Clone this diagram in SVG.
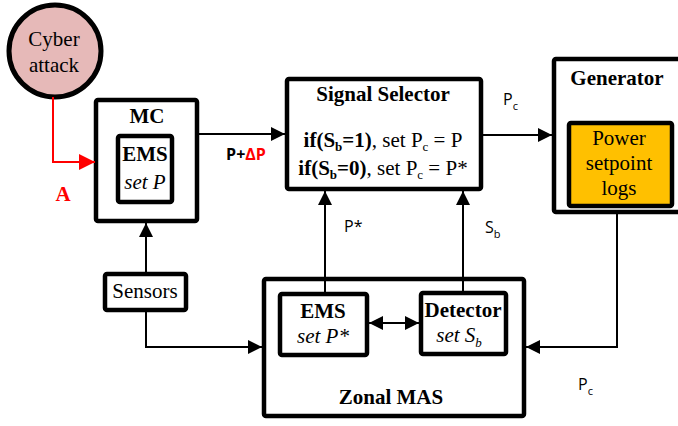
<svg xmlns="http://www.w3.org/2000/svg" width="678" height="426" viewBox="0 0 678 426">
<defs>
<style>
.box{fill:#fff;stroke:#000;stroke-width:4.5}
.ser{font-family:"Liberation Serif","Times New Roman",serif;font-size:21px;fill:#000}
.b{font-weight:bold}
.i{font-style:italic}
.sans{font-family:"Open Sans","Liberation Sans",sans-serif;font-size:16px;fill:#000}
.ln{fill:none;stroke:#000;stroke-width:2}
</style>
<marker id="ah" viewBox="0 0 14 14" refX="14" refY="7" markerWidth="14" markerHeight="14" markerUnits="userSpaceOnUse" orient="auto-start-reverse"><path d="M0,0 L14,7 L0,14 z" fill="#000"/></marker>
<marker id="ahr" viewBox="0 0 16 16" refX="16" refY="8" markerWidth="16" markerHeight="16" markerUnits="userSpaceOnUse" orient="auto"><path d="M0,0 L16,8 L0,16 z" fill="#f00"/></marker>
</defs>
<rect width="678" height="426" fill="#fff"/>

<g id="cyber-attack">
<circle cx="55" cy="51" r="46" fill="#E6B9B8" stroke="#000" stroke-width="5"/>
<text class="ser" x="54" y="46" text-anchor="middle">Cyber</text>
<text class="ser" x="54" y="72" text-anchor="middle">attack</text>
</g>

<g id="label-A">
<text class="ser b" x="63" y="201" text-anchor="middle" style="fill:#f00">A</text>
</g>

<g id="mc">
<rect class="box" x="96" y="100" width="101" height="121" rx="2"/>
<text class="ser b" x="147" y="123" text-anchor="middle">MC</text>
<g id="mc-ems">
<rect class="box" x="118" y="136" width="54" height="66" rx="2"/>
<text class="ser b" x="145" y="161" text-anchor="middle">EMS</text>
<text class="ser i" x="145" y="189" text-anchor="middle">set P</text>
</g>
</g>

<g id="label-pdp">
<text class="sans b" x="246" y="160" text-anchor="middle" style="font-size:16px">P+<tspan fill="#f00">ΔP</tspan></text>
</g>

<g id="signal-selector">
<rect class="box" x="287" y="79" width="194" height="110" rx="2"/>
<text class="ser b" x="383" y="101" text-anchor="middle">Signal Selector</text>
<text class="ser" x="383" y="147" text-anchor="middle"><tspan class="b">if(S</tspan><tspan class="b" font-size="13" dy="4">b</tspan><tspan class="b" dy="-4">=1)</tspan>, set P<tspan font-size="13" dy="4">c</tspan><tspan dy="-4"> = P</tspan></text>
<text class="ser" x="383" y="175" text-anchor="middle"><tspan class="b">if(S</tspan><tspan class="b" font-size="13" dy="4">b</tspan><tspan class="b" dy="-4">=0)</tspan>, set P<tspan font-size="13" dy="4">c</tspan><tspan dy="-4"> = P*</tspan></text>
</g>

<g id="label-pc-top">
<text class="sans" x="503" y="105">P<tspan font-size="11" dy="5">c</tspan></text>
</g>
<g id="label-pstar">
<text class="sans" x="344" y="232">P*</text>
</g>
<g id="label-sb">
<text class="sans" x="485" y="233">S<tspan font-size="11" dy="5">b</tspan></text>
</g>

<g id="generator">
<rect class="box" x="554" y="59" width="140" height="153" rx="2"/>
<text class="ser b" x="617" y="85" text-anchor="middle">Generator</text>
<g id="power-logs">
<rect x="569" y="123" width="103" height="83" rx="2" fill="#FFC000" stroke="#000" stroke-width="4.5"/>
<text class="ser" x="619" y="145" text-anchor="middle">Power</text>
<text class="ser" x="619" y="170" text-anchor="middle">setpoint</text>
<text class="ser" x="619" y="195" text-anchor="middle">logs</text>
</g>
</g>

<g id="sensors">
<rect class="box" x="105" y="274" width="81" height="36" rx="2"/>
<text class="ser" x="145" y="298" text-anchor="middle">Sensors</text>
</g>

<g id="zonal-mas">
<rect class="box" x="264" y="279" width="260" height="137" rx="2"/>
<text class="ser b" x="391" y="404" text-anchor="middle">Zonal MAS</text>
<g id="zonal-ems">
<rect class="box" x="280" y="294" width="87" height="61" rx="2"/>
<text class="ser b" x="323" y="318" text-anchor="middle">EMS</text>
<text class="ser i" x="323" y="343" text-anchor="middle">set P*</text>
</g>
<g id="detector">
<rect class="box" x="421" y="293" width="85" height="61" rx="2"/>
<text class="ser b" x="463" y="317" text-anchor="middle">Detector</text>
<text class="ser i" x="459" y="342" text-anchor="middle">set S<tspan font-size="13" dy="5">b</tspan></text>
</g>
</g>

<g id="label-pc-bottom">
<text class="sans" x="578" y="390">P<tspan font-size="11" dy="5">c</tspan></text>
</g>

<g id="connectors">
<path d="M53,97 V162 H95" fill="none" stroke="#f00" stroke-width="2" marker-end="url(#ahr)"/>
<path class="ln" d="M199,134 H285" marker-end="url(#ah)"/>
<path class="ln" d="M483,135 H552" marker-end="url(#ah)"/>
<path class="ln" d="M325,292 V191" marker-end="url(#ah)"/>
<path class="ln" d="M463,291 V191" marker-end="url(#ah)"/>
<path class="ln" d="M146,272 V223" marker-end="url(#ah)"/>
<path class="ln" d="M146,312 V347 H262" marker-end="url(#ah)"/>
<path class="ln" d="M617,214 V347 H526" marker-end="url(#ah)"/>
<path class="ln" d="M369,323 H419" marker-start="url(#ah)" marker-end="url(#ah)"/>
</g>
</svg>
